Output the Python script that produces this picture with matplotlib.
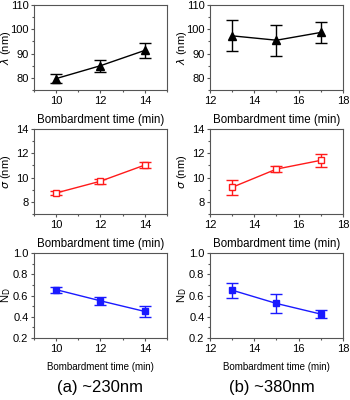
import numpy as np
import matplotlib.pyplot as plt
from matplotlib.ticker import MultipleLocator

plt.rcParams['font.family'] = ['Liberation Sans', 'DejaVu Sans']

# bombardment times (min)
t_a = [10, 12, 14]
t_b = [13, 15, 17]

# wavelength lambda (nm)
lam_a = [79.7, 85.0, 91.3]
lam_a_err = [1.7, 2.5, 3.2]
lam_b = [97.3, 95.5, 98.7]
lam_b_err = [6.4, 6.4, 4.4]

# sigma (nm)
sig_a = [8.73, 9.7, 11.03]
sig_a_err = [0.18, 0.22, 0.28]
sig_b = [9.2, 10.7, 11.42]
sig_b_err = [0.64, 0.23, 0.51]

# N_D
nd_a = [0.655, 0.55, 0.45]
nd_a_err = [0.027, 0.038, 0.052]
nd_b = [0.65, 0.525, 0.425]
nd_b_err = [0.07, 0.086, 0.036]

fig = plt.figure(figsize=(3.5, 4), dpi=100)

cols = [0.097, 0.6]
rows = [0.775, 0.465, 0.155]
w, h = 0.38, 0.2125

panels = [
    # row, col, x, y, err, color, marker, filled, ylabel, ylim, major, minor
    (0, 0, t_a, lam_a, lam_a_err, 'black', '^', True, r'$\lambda$ (nm)', (75, 110), 10, 5),
    (0, 1, t_b, lam_b, lam_b_err, 'black', '^', True, r'$\lambda$ (nm)', (75, 110), 10, 5),
    (1, 0, t_a, sig_a, sig_a_err, '#ff1a1a', 's', False, r'$\sigma$ (nm)', (7, 14), 2, 1),
    (1, 1, t_b, sig_b, sig_b_err, '#ff1a1a', 's', False, r'$\sigma$ (nm)', (7, 14), 2, 1),
    (2, 0, t_a, nd_a, nd_a_err, '#1a1aff', 's', True, r'N$_\mathrm{D}$', (0.2, 1.0), 0.2, 0.1),
    (2, 1, t_b, nd_b, nd_b_err, '#1a1aff', 's', True, r'N$_\mathrm{D}$', (0.2, 1.0), 0.2, 0.1),
]

for r, c, x, y, e, col, mk, filled, ylab, ylim, maj, mnr in panels:
    ax = fig.add_axes([cols[c], rows[r], w, h])
    ax.errorbar(x, y, yerr=e, color=col, marker=mk, ms=6 if mk == '^' else 5,
                mfc=col if filled else 'white', mec=col, lw=1,
                capsize=4.5, capthick=1, elinewidth=1)
    if c == 0:
        ax.set_xlim(9, 15)
    else:
        ax.set_xlim(12, 18)
    ax.xaxis.set_major_locator(MultipleLocator(2))
    ax.xaxis.set_minor_locator(MultipleLocator(1))
    ax.set_ylim(*ylim)
    ax.yaxis.set_major_locator(MultipleLocator(maj))
    ax.yaxis.set_minor_locator(MultipleLocator(mnr))
    if r == 2:
        ax.yaxis.set_major_formatter(plt.FormatStrFormatter('%.1f'))
    ax.tick_params(which='both', direction='out', top=False, right=False,
                   labelsize=8, width=0.8, color='#555555', pad=1.5)
    ax.tick_params(which='major', length=2.5)
    ax.tick_params(which='minor', length=1.5)
    for s in ax.spines.values():
        s.set_linewidth(0.8)
        s.set_color('#555555')
    ax.set_ylabel(ylab, fontsize=8)
    ax.yaxis.set_label_coords(-0.16, 0.5)
    ax.set_xlabel('Bombardment time (min)', fontsize=8.3 if r < 2 else 7, labelpad=6)

fig.text(0.285, 0.032, '(a) ~230nm', ha='center', va='center', fontsize=12)
fig.text(0.778, 0.032, '(b) ~380nm', ha='center', va='center', fontsize=12)

fig.savefig('out.png', dpi=100)
